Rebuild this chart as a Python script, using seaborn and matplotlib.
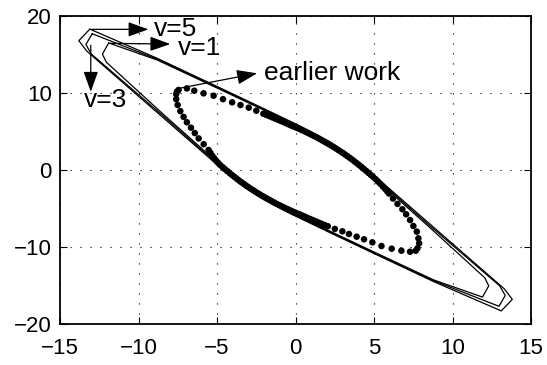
import numpy as np
import pandas as pd
import matplotlib
matplotlib.use("Agg")
import matplotlib.pyplot as plt
import seaborn as sns

sns.set_theme(style="white")
plt.rcParams.update({
    "font.size": 16,
    "xtick.labelsize": 16,
    "ytick.labelsize": 16,
    "axes.edgecolor": "black",
    "axes.linewidth": 1.3,
    "text.color": "black",
    "xtick.color": "black",
    "ytick.color": "black",
})
plt.rcParams["font.family"] = ["Liberation Sans", "DejaVu Sans"]

# closed contours for v=5, v=3, v=1
v5_x = [-13.1, -8.8, -5.0, -2.0, 0.3, 2.2, 5.2, 8.6, 13.3, 13.8, 13.1,
        8.8, 5.0, 2.0, -0.3, -2.2, -5.2, -8.6, -13.3, -13.8, -13.1]
v5_y = [18.3, 14.5, 10.85, 7.95, 5.7, 3.6, -1.05, -7.1, -15.45, -16.8, -18.3,
        -14.5, -10.85, -7.95, -5.7, -3.6, 1.05, 7.1, 15.45, 16.8, 18.3]

v3_x = [-12.95, -8.8, -5.0, -2.0, 0.3, 2.2, 5.15, 8.5, 13.0, 13.35, 12.95,
        8.8, 5.0, 2.0, -0.3, -2.2, -5.15, -8.5, -13.0, -13.35, -12.95]
v3_y = [17.7, 14.38, 10.75, 7.85, 5.62, 3.52, -1.12, -7.15, -15.05, -16.3, -17.7,
        -14.38, -10.75, -7.85, -5.62, -3.52, 1.12, 7.15, 15.05, 16.3, 17.7]

v1_x = [-11.9, -8.8, -5.0, -2.0, 0.3, 2.2, 5.1, 8.4, 12.05, 12.3, 11.9,
        8.8, 5.0, 2.0, -0.3, -2.2, -5.1, -8.4, -12.05, -12.3, -11.9]
v1_y = [16.5, 14.28, 10.65, 7.76, 5.55, 3.45, -1.2, -7.2, -14.0, -15.05, -16.5,
        -14.28, -10.65, -7.76, -5.55, -3.45, 1.2, 7.2, 14.0, 15.05, 16.5]

# earlier work (dotted curve): upper side then lower side
ew_upper_x = [-7.45, -6.92, -6.45, -5.86, -5.22, -4.62, -4.04, -3.51, -2.98, -2.5,
              -2.05, -1.65, -1.3, -0.95, -0.6, -0.3, 0.0, 0.3, 0.6, 0.9,
              1.2, 1.5, 1.8, 2.1, 2.4, 2.7, 3.0, 3.3, 3.6, 3.9,
              4.2, 4.5, 4.8, 5.1, 5.4, 5.7, 5.95, 6.2, 6.49, 6.8,
              7.04, 7.29, 7.5, 7.72, 7.82, 7.87, 7.76, 7.65]
ew_upper_y = [10.4, 10.6, 10.3, 9.96, 9.65, 9.2, 8.79, 8.44, 8.1, 7.7,
              7.3, 6.98, 6.68, 6.38, 6.07, 5.8, 5.55, 5.28, 5.0, 4.7,
              4.4, 4.07, 3.73, 3.38, 3.02, 2.63, 2.23, 1.8, 1.36, 0.88,
              0.4, -0.12, -0.65, -1.2, -1.8, -2.45, -3.05, -3.7, -4.4, -5.1,
              -5.75, -6.5, -7.27, -8.0, -8.87, -9.52, -10.17, -10.48]
ew_upper_mid_x = [-1.85, -1.47, -1.125, -0.775, -0.45, -0.15, 0.15, 0.45, 0.75, 1.05,
                  1.35, 1.65, 1.95, 2.25, 2.55, 2.85, 3.15, 3.45, 3.75, 4.05,
                  4.35, 4.65, 4.95, 5.25, 5.55, 5.83]
ew_upper_mid_y = [7.14, 6.83, 6.53, 6.23, 5.94, 5.68, 5.42, 5.14, 4.85, 4.55,
                  4.24, 3.9, 3.56, 3.2, 2.83, 2.43, 2.02, 1.58, 1.12, 0.64,
                  0.14, -0.39, -0.92, -1.5, -2.12, -2.75]
ew_lower_x = [7.29, 6.74, 6.12, 5.47, 4.89, 4.36, 3.89, 3.40, 2.98, 2.5,
              2.05, 1.65, 1.3, 0.95, 0.6, 0.3, 0.0, -0.3, -0.6, -0.9,
              -1.2, -1.5, -1.8, -2.1, -2.4, -2.7, -3.0, -3.3, -3.6, -3.9,
              -4.2, -4.5, -4.8, -5.05, -5.3, -5.54, -5.85, -6.17, -6.42, -6.66,
              -6.92, -7.13, -7.34, -7.51, -7.6, -7.6, -7.55]
ew_lower_y = [-10.61, -10.48, -10.22, -9.87, -9.39, -9.0, -8.66, -8.31, -7.96, -7.65,
              -7.3, -6.98, -6.68, -6.38, -6.07, -5.8, -5.55, -5.28, -5.0, -4.7,
              -4.4, -4.07, -3.73, -3.38, -3.02, -2.63, -2.23, -1.8, -1.36, -0.88,
              -0.4, 0.12, 0.65, 1.2, 1.85, 2.6, 3.35, 4.1, 4.8, 5.5,
              6.2, 6.9, 7.65, 8.45, 9.2, 9.85, 10.2]
ew_lower_mid_x = [1.85, 1.47, 1.125, 0.775, 0.45, 0.15, -0.15, -0.45, -0.75, -1.05,
                  -1.35, -1.65, -1.95, -2.25, -2.55, -2.85, -3.15, -3.45, -3.75, -4.05,
                  -4.35, -4.65, -4.93, -5.18, -5.42]
ew_lower_mid_y = [-7.14, -6.83, -6.53, -6.23, -5.94, -5.68, -5.42, -5.14, -4.85, -4.55,
                  -4.24, -3.9, -3.56, -3.2, -2.83, -2.43, -2.02, -1.58, -1.12, -0.64,
                  -0.14, 0.39, 0.92, 1.52, 2.22]

# annotations: label, arrow tail, arrow head, text position
labels = ["v=5", "v=1", "v=3", "earlier work"]
arrow_from = [(-12.98, 18.27), (-11.8, 16.45), (-13.04, 16.2), (-7.45, 10.6)]
arrow_to = [(-9.37, 18.27), (-7.98, 16.36), (-13.04, 10.17), (-2.45, 12.56)]
text_at = [(-9.0, 18.35), (-7.5, 15.85), (-13.5, 9.05), (-2.0, 12.6)]


def main():
    fig = plt.figure(figsize=(5.47, 3.65), dpi=100)
    ax = fig.add_axes([0.1097, 0.1123, 0.8613, 0.8438])

    for xs, ys in [(v5_x, v5_y), (v3_x, v3_y), (v1_x, v1_y)]:
        df = pd.DataFrame({"x": xs, "y": ys})
        sns.lineplot(data=df, x="x", y="y", sort=False, estimator=None,
                     color="black", linewidth=0.9, ax=ax)

    dots = pd.DataFrame({"x": ew_upper_x + ew_upper_mid_x + ew_lower_x + ew_lower_mid_x,
                         "y": ew_upper_y + ew_upper_mid_y + ew_lower_y + ew_lower_mid_y})
    sns.scatterplot(data=dots, x="x", y="y", color="black", s=22,
                    edgecolor="none", ax=ax, zorder=3)

    for lab, p0, p1, pt in zip(labels, arrow_from, arrow_to, text_at):
        ax.annotate("", xy=p1, xytext=p0,
                    arrowprops=dict(arrowstyle="-|>,head_length=1.25,head_width=0.45",
                                    mutation_scale=10, color="black", lw=0.9,
                                    shrinkA=0, shrinkB=0))
        ax.text(pt[0], pt[1], lab, fontsize=19, color="black",
                ha="left", va="center")

    ax.set_xlim(-15, 15)
    ax.set_ylim(-20, 20)
    ax.set_xticks(np.arange(-15, 16, 5))
    ax.set_yticks(np.arange(-20, 21, 10))
    ax.set_xlabel("")
    ax.set_ylabel("")
    ax.grid(True, color="black", linestyle=(0, (1, 8)), linewidth=0.8)
    ax.tick_params(direction="in", length=5, width=0.8, top=True, right=True,
                   bottom=True, left=True, colors="black")
    ax.tick_params(axis="x", pad=10)
    ax.tick_params(axis="y", pad=6)
    for s in ax.spines.values():
        s.set_visible(True)
        s.set_color("black")

    fig.savefig("out.png", dpi=100)
    plt.close(fig)


if __name__ == "__main__":
    main()
